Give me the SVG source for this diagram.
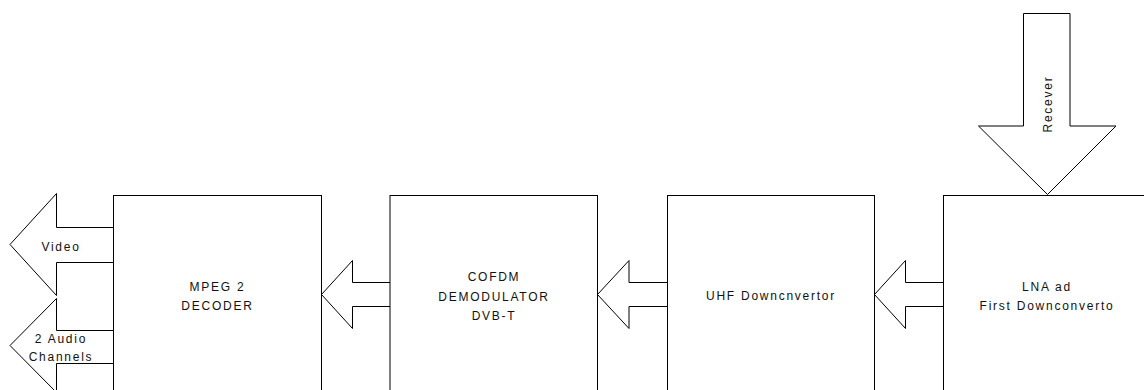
<svg xmlns="http://www.w3.org/2000/svg" width="1144" height="390" viewBox="0 0 1144 390">
<style>
.box{fill:#fff;stroke:#000;stroke-width:1}
.arr{fill:#fff;stroke:#000;stroke-width:1;stroke-linejoin:miter}
text{font-family:"Liberation Sans",Arial,sans-serif;font-size:12px;letter-spacing:1.75px;fill:#111;text-anchor:middle}
</style>
<rect width="1144" height="390" fill="#fff"/>
<g id="connectors">
<path id="arr-video" class="arr" d="M113.5,227.5 H56.5 V193.5 L10,244.5 L56.5,295.5 V262.5 H113.5"/>
<path id="arr-audio" class="arr" d="M113.5,330.5 H56.5 V298.5 L10,345.5 L56.5,392.5 V363.5 H113.5"/>
<path id="arr-cofdm-mpeg" class="arr" d="M390,282.5 H352.5 V260.5 L321.5,294.5 L352.5,328.5 V306.5 H390"/>
<path id="arr-uhf-cofdm" class="arr" d="M667.5,282.5 H629 V260.5 L597.5,294.5 L629,328.5 V306.5 H667.5"/>
<path id="arr-lna-uhf" class="arr" d="M943.5,282.5 H905.5 V260.5 L874.5,294.5 L905.5,328.5 V306.5 H943.5"/>
<path id="arr-receiver" class="arr" d="M1023.5,13.5 H1070 V126 H1116 L1047.5,194.5 L978.5,126 H1023.5 Z"/>
</g>
<g id="node-mpeg">
<rect class="box" x="113.5" y="195.5" width="208" height="210"/>
<text x="217.5" y="290.5">MPEG 2</text>
<text x="217.5" y="309.5">DECODER</text>
</g>
<g id="node-cofdm">
<rect class="box" x="390" y="195.5" width="207.5" height="210"/>
<text x="494" y="281">COFDM</text>
<text x="494" y="300.5">DEMODULATOR</text>
<text x="494" y="320">DVB-T</text>
</g>
<g id="node-uhf">
<rect class="box" x="667.5" y="195.5" width="207" height="210"/>
<text x="771" y="299.5">UHF Downcnvertor</text>
</g>
<g id="node-lna">
<rect class="box" x="943.5" y="195.5" width="210" height="210"/>
<text x="1047" y="290.5">LNA ad</text>
<text x="1047" y="310">First Downconverto</text>
</g>
<g id="labels">
<text x="61" y="250.5">Video</text>
<text x="61" y="342.5">2 Audio</text>
<text x="61" y="360.5">Channels</text>
<text transform="translate(1051.5,104) rotate(-90)" x="0" y="0">Recever</text>
</g>
</svg>
